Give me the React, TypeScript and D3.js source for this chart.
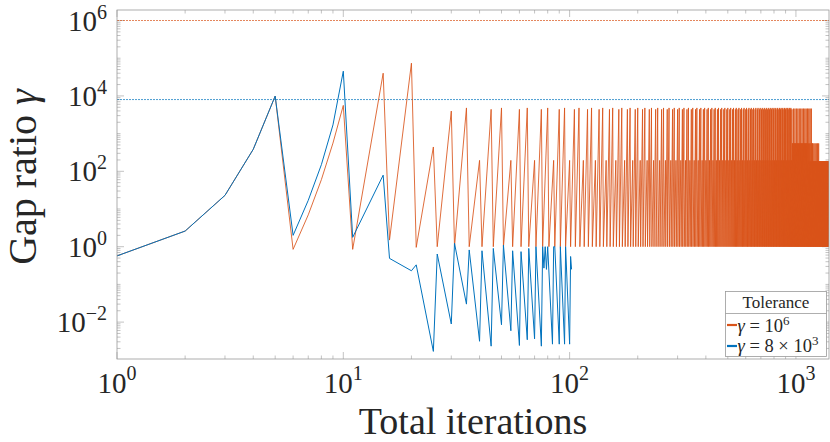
import React from 'react';
import * as d3 from 'd3';

const W = 830;
const H = 442;
const margin = { top: 10, right: 1, bottom: 83, left: 117 };

// gamma = 8e3 run (blue): vertices
const blueIter = [1, 2, 3, 4, 5, 6, 7, 8, 9, 10, 11, 15, 16, 20, 21, 25, 26, 30, 31, 35, 36, 40, 41, 45, 46, 50, 51, 55, 56, 60, 61, 65, 66, 70, 71, 75, 76, 77, 78, 79, 80, 84, 85, 86, 90, 91, 95, 96, 100, 101, 102];
const blueGap = [0.57, 2.6, 23, 384, 9900, 2.0, 17, 150, 1700, 45300, 1.77, 79, 0.49, 0.23, 0.33, 0.00167, 0.64, 0.0089, 1.23, 0.03, 0.82, 0.0031, 0.78, 0.0023, 0.9, 0.0085, 1.1, 0.0059, 0.78, 0.0024, 0.74, 0.0034, 0.9, 0.0036, 1.0, 0.0023, 1.0, 0.27, 1.0, 0.25, 1.0, 0.0026, 1.0, 1.0, 0.0026, 1.0, 0.0026, 1.0, 0.0026, 0.55, 0.25];

// gamma = 1e6 run (orange): first iterations
const orangeIter = [1, 2, 3, 4, 5, 6, 7, 8, 9, 10, 11, 15, 16, 20, 21, 25, 26, 30];
const orangeGap = [0.57, 2.6, 23, 384, 9900, 0.85, 7, 60, 560, 5600, 0.85, 40000, 1.5, 73800, 0.96, 442, 1.0, 3960];

// later restarts every 5 iterations; peak reached depends on position in a 15-iteration block
const blockFrom = [31, 961, 1121, 1181, 1261];
const blockTo = [960, 1120, 1180, 1260, 1395];
const peakPhase0 = [4400, 4600, 4600, 550, 185];
const peakPhase5 = [4800, 550, 185, 185, 185];
const peakPhase10 = [195, 550, 550, 185, 185];
const restartGap = 1.0;

// tolerance lines
const tolOrange = 1e6;
const tolBlue = 8e3;

const xMajor = [1, 10, 100, 1000];
const yMajor = [-2, 0, 2, 4, 6];

const ORANGE = '#D95319';
const BLUE = '#0072BD';
const AXIS = '#9a9a9a';
const TEXT = '#262626';
const FONT = '"Liberation Serif", "Times New Roman", serif';

const orangePts: [number, number][] = orangeIter.map((n, i) => [n, orangeGap[i]]);
blockFrom.forEach((from, b) => {
  for (let n = from; n + 4 <= blockTo[b]; n += 5) {
    const end = n + 4;
    const phase = end % 15;
    const peak = phase === 0 ? peakPhase0[b] : phase === 5 ? peakPhase5[b] : peakPhase10[b];
    orangePts.push([n, restartGap], [end, peak]);
  }
});
const bluePts: [number, number][] = blueIter.map((n, i) => [n, blueGap[i]]);

const App = () => {
  const x0 = margin.left;
  const x1 = W - margin.right;
  const y0 = margin.top;
  const y1 = H - margin.bottom;

  const x = d3.scaleLog().domain([1, 1400]).range([x0, x1]);
  const y = d3.scaleLog().domain([1.05e-3, 1.9e6]).range([y1, y0]);

  const line = d3.line<[number, number]>()
    .x(d => x(d[0]))
    .y(d => y(d[1]));

  const xMinor: number[] = [];
  for (let k = 0; k <= 3; k++) {
    for (let m = 2; m <= 9; m++) {
      const v = m * Math.pow(10, k);
      if (v <= 1400) xMinor.push(v);
    }
  }
  const yMinor: number[] = [];
  for (let k = -3; k <= 6; k++) {
    for (let m = 1; m <= 9; m++) {
      const v = m * Math.pow(10, k);
      if (m === 1 && yMajor.includes(k)) continue;
      if (v >= 1.05e-3 && v <= 1.9e6) yMinor.push(v);
    }
  }

  const lgX = 725.5, lgY = 291.5, lgW = 101, lgH = 65;

  return (
    <svg width={W} height={H} style={{ position: 'absolute', left: 0, top: 0, background: '#fff' }} fontFamily={FONT}>
      <defs>
        <clipPath id="plotclip">
          <rect x={x0} y={y0} width={x1 - x0} height={y1 - y0} />
        </clipPath>
      </defs>
      <rect x={0} y={0} width={W} height={H} fill="#fff" />

      {/* ticks */}
      <g stroke={AXIS} strokeWidth={0.6}>
        {xMinor.map(v => (
          <g key={'xm' + v}>
            <line x1={x(v)} x2={x(v)} y1={y1} y2={y1 - 3.5} />
            <line x1={x(v)} x2={x(v)} y1={y0} y2={y0 + 3.5} />
          </g>
        ))}
        {yMinor.map(v => (
          <g key={'ym' + v}>
            <line x1={x0} x2={x0 + 3.5} y1={y(v)} y2={y(v)} />
            <line x1={x1} x2={x1 - 3.5} y1={y(v)} y2={y(v)} />
          </g>
        ))}
        {xMajor.map(v => (
          <g key={'xM' + v}>
            <line x1={x(v)} x2={x(v)} y1={y1} y2={y1 - 7} />
            <line x1={x(v)} x2={x(v)} y1={y0} y2={y0 + 7} />
          </g>
        ))}
        {yMajor.map(k => (
          <g key={'yM' + k}>
            <line x1={x0} x2={x0 + 7} y1={y(Math.pow(10, k))} y2={y(Math.pow(10, k))} />
            <line x1={x1} x2={x1 - 7} y1={y(Math.pow(10, k))} y2={y(Math.pow(10, k))} />
          </g>
        ))}
      </g>

      {/* tolerance lines */}
      <line x1={x0} x2={x1} y1={y(tolOrange)} y2={y(tolOrange)} stroke={ORANGE} strokeWidth={0.7} strokeDasharray="2 1" />
      <line x1={x0} x2={x1} y1={y(tolBlue)} y2={y(tolBlue)} stroke={BLUE} strokeWidth={0.7} strokeDasharray="2 1" />

      <g clipPath="url(#plotclip)" fill="none" strokeLinejoin="round">
        <path d={line(orangePts) || ''} stroke={ORANGE} strokeWidth={0.85} />
        <path d={line(bluePts) || ''} stroke={BLUE} strokeWidth={1} />
      </g>

      {/* box */}
      <rect x={x0} y={y0} width={x1 - x0} height={y1 - y0} fill="none" stroke={AXIS} strokeWidth={0.8} />

      {/* tick labels */}
      <g fill={TEXT} fontSize={29}>
        {xMajor.map(v => (
          <text key={'xl' + v} x={x(v)} y={393} textAnchor="middle">
            10<tspan fontSize={20} dy={-13}>{Math.round(Math.log10(v))}</tspan>
          </text>
        ))}
        {yMajor.map(k => (
          <text key={'yl' + k} x={107} y={y(Math.pow(10, k)) + 10} textAnchor="end">
            10<tspan fontSize={20} dy={-12}>{k < 0 ? '\u2212' + Math.abs(k) : k}</tspan>
          </text>
        ))}
      </g>

      {/* axis labels */}
      <text x={(x0 + x1) / 2} y={433.5} textAnchor="middle" fontSize={38} fill={TEXT}>Total iterations</text>
      <text transform={`translate(36,177) rotate(-90)`} textAnchor="middle" fontSize={40} fill={TEXT}>
        Gap ratio <tspan fontStyle="italic">γ</tspan>
      </text>

      {/* legend */}
      <g>
        <rect x={lgX} y={lgY} width={lgW} height={lgH} fill="#fff" stroke={AXIS} strokeWidth={0.8} />
        <line x1={lgX} x2={lgX + lgW} y1={lgY + 22} y2={lgY + 22} stroke={AXIS} strokeWidth={0.8} />
        <text x={lgX + lgW / 2} y={lgY + 16} textAnchor="middle" fontSize={17} fill={TEXT}>Tolerance</text>
        <line x1={lgX + 1.5} x2={lgX + 11.5} y1={lgY + 33.5} y2={lgY + 33.5} stroke={ORANGE} strokeWidth={2.2} />
        <line x1={lgX + 1.5} x2={lgX + 11.5} y1={lgY + 54.5} y2={lgY + 54.5} stroke={BLUE} strokeWidth={2.2} />
        <text x={lgX + 12} y={lgY + 40} fontSize={18.5} fill={TEXT}>
          <tspan fontStyle="italic">γ</tspan> = 10<tspan fontSize={13} dy={-7}>6</tspan>
        </text>
        <text x={lgX + 12} y={lgY + 60} fontSize={18.5} fill={TEXT}>
          <tspan fontStyle="italic">γ</tspan> = 8 × 10<tspan fontSize={13} dy={-7}>3</tspan>
        </text>
      </g>
    </svg>
  );
};

export default App;
